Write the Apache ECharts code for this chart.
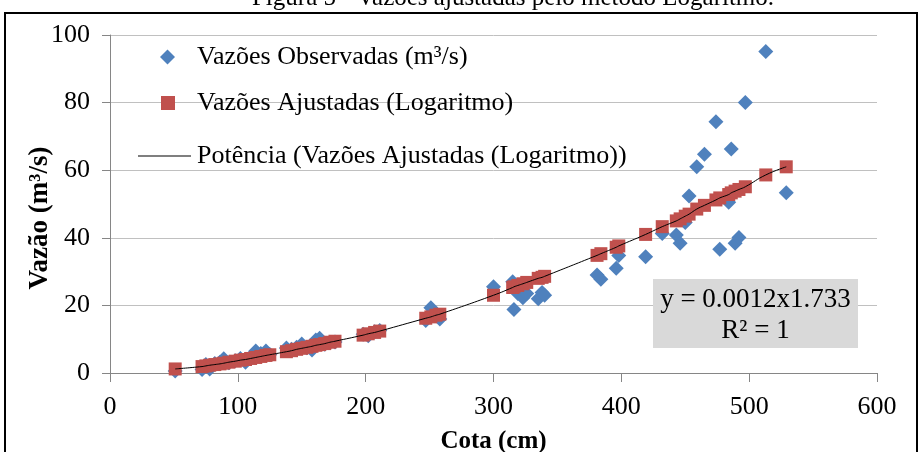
<!DOCTYPE html>
<html>
<head>
<meta charset="utf-8">
<script src="https://cdn.jsdelivr.net/npm/echarts@6/dist/echarts.min.js"></script>
<style>
html,body{margin:0;padding:0;background:#fff;}
#c{width:920px;height:452px;}
</style>
</head>
<body>
<div id="c"></div>
<script>
// Data
const cota = [51,72,75,78,82,86,89,93,98,102,106,110,114,118,122,125,
  138,142,146,150,154,158,161,164,168,172,176,
  198,202,207,211,
  247,251,255,258,
  300,315,316,319,323,326,335,338,340,
  381,384,396,398,
  419,432,443,446,450,453,459,465,474,477,484,486,489,492,497,513,529];
const observadas = [0.6,1.0,2.5,1.2,2.8,3.2,4.2,3.0,3.6,4.3,3.2,4.8,6.5,5.8,6.5,5.5,
  7.4,7.0,7.6,8.6,7.5,6.8,9.8,10.3,8.5,9.0,9.2,
  11.5,11.0,12.2,12.6,
  15.5,19.3,17.5,16.0,
  25.5,27.0,18.8,23.5,22.3,23.5,22.0,23.8,23.0,
  29.0,27.7,31.0,34.8,
  34.4,41.3,40.8,38.4,44.5,52.4,61.0,64.7,74.3,36.6,50.5,66.3,38.4,40.1,80.0,95.1,53.3];
const ajustadas = [1.2,1.9,2.1,2.3,2.5,2.7,2.9,3.2,3.5,3.8,4.0,4.3,4.6,4.9,5.2,5.4,
  6.3,6.6,7.0,7.3,7.6,7.9,8.2,8.4,8.7,9.1,9.4,
  11.2,11.6,12.0,12.4,
  16.2,16.6,17.1,17.4,
  23.0,25.3,25.5,25.9,26.4,26.8,28.0,28.3,28.6,
  34.8,35.3,37.2,37.6,
  41.0,43.3,45.0,45.6,46.4,47.0,48.5,49.6,51.2,51.8,52.8,53.3,53.8,54.3,55.1,58.6,61.0];
const xTicks = [0,100,200,300,400,500,600];
const yTicks = [0,20,40,60,80,100];
const nomeObs = 'Vazões Observadas (m³/s)';
const nomeAjs = 'Vazões Ajustadas (Logaritmo)';
const nomeTend = 'Potência (Vazões Ajustadas (Logaritmo))';
const tituloFig = 'Figura 5 - Vazões ajustadas pelo método Logaritmo.';
const nomeY = 'Vazão (m³/s)';
const nomeX = 'Cota (cm)';
const equacao = ['y = 0.0012x1.733', 'R² = 1'];

const obsData = cota.map((c, i) => [c, observadas[i]]);
const ajsData = cota.map((c, i) => [c, ajustadas[i]]);

const serif = '"Liberation Serif","Times New Roman",serif';
const chart = echarts.init(document.getElementById('c'), null, {renderer: 'canvas'});
const legendText = {fontFamily: serif, fontSize: 26, color: '#000'};
const legendBase = {orient: 'vertical', padding: 0, itemGap: 0, selectedMode: false};
chart.setOption({
  animation: false,
  backgroundColor: '#fff',
  grid: {left: 110, right: 43, top: 35, bottom: 79, containLabel: false, outerBoundsMode: 'none'},
  xAxis: {
    type: 'value', min: xTicks[0], max: xTicks[xTicks.length - 1], interval: 100,
    name: nomeX, nameLocation: 'middle', nameGap: 56,
    nameTextStyle: {fontFamily: serif, fontSize: 25, fontWeight: 'bold', color: '#000'},
    axisLine: {show: true, lineStyle: {color: '#868686', width: 1}},
    axisTick: {show: true, length: 9, lineStyle: {color: '#868686'}},
    axisLabel: {fontFamily: serif, fontSize: 26, color: '#000', margin: 21},
    splitLine: {show: false}
  },
  yAxis: {
    type: 'value', min: yTicks[0], max: yTicks[yTicks.length - 1], interval: 20,
    axisLine: {show: true, lineStyle: {color: '#868686', width: 1}},
    axisTick: {show: true, length: 8, lineStyle: {color: '#868686'}},
    axisLabel: {fontFamily: serif, fontSize: 26, color: '#000', margin: 20},
    splitLine: {show: true, lineStyle: {color: '#c0c0c0', width: 1}}
  },
  legend: [
    Object.assign({}, legendBase, {data: [nomeObs], left: 160, top: 44, itemWidth: 15, itemHeight: 15,
      icon: 'diamond', itemStyle: {opacity: 1}, textStyle: Object.assign({}, legendText, {padding: [0, 0, 0, 17]})}),
    Object.assign({}, legendBase, {data: [nomeAjs], left: 161, top: 90, itemWidth: 14, itemHeight: 14,
      icon: 'rect', itemStyle: {opacity: 1}, textStyle: Object.assign({}, legendText, {padding: [0, 0, 0, 17]})}),
    Object.assign({}, legendBase, {data: [{name: nomeTend, icon: 'rect'}], left: 138, top: 143, itemWidth: 53, itemHeight: 1,
      textStyle: Object.assign({}, legendText, {padding: [0, 0, 0, 1]})})
  ],
  series: [
    {name: nomeObs, type: 'scatter', data: obsData, symbol: 'diamond', symbolSize: 15,
      itemStyle: {color: '#4F81BD', opacity: 1}, z: 2},
    {name: nomeAjs, type: 'scatter', data: ajsData, symbol: 'rect', symbolSize: 13,
      itemStyle: {color: '#C0504D', opacity: 1}, z: 3},
    {name: nomeTend, type: 'line', data: ajsData, symbol: 'none', smooth: true,
      lineStyle: {color: '#000', width: 1}, itemStyle: {color: '#000'}, z: 4}
  ],
  graphic: [
    {type: 'text', x: 513, y: -14, style: {text: tituloFig, font: '25px ' + serif, fill: '#000', textAlign: 'center'}, z: 1},
    {type: 'text', x: 40, y: 218, rotation: Math.PI / 2,
      style: {text: nomeY, font: 'bold 27px ' + serif, fill: '#000', textAlign: 'center', textVerticalAlign: 'middle'}, z: 5},
    {type: 'rect', shape: {x: 5, y: 13, width: 912, height: 460}, style: {fill: 'none', stroke: '#000', lineWidth: 2}, z: 100, silent: true},
    {type: 'rect', shape: {x: 653, y: 279, width: 205, height: 69}, style: {fill: '#d9d9d9'}, z: 50},
    {type: 'text', x: 755.5, y: 300, style: {text: equacao[0], font: '27px ' + serif, fill: '#000', textAlign: 'center', textVerticalAlign: 'middle'}, z: 51},
    {type: 'text', x: 755.5, y: 331, style: {text: equacao[1], font: '27px ' + serif, fill: '#000', textAlign: 'center', textVerticalAlign: 'middle'}, z: 51}
  ]
});
</script>
</body>
</html>
